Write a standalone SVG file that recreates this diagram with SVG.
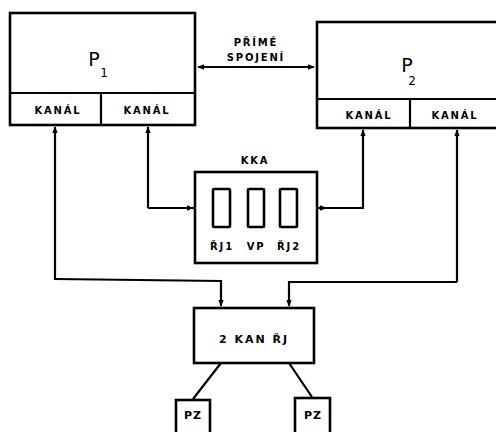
<svg xmlns="http://www.w3.org/2000/svg" width="496" height="432" viewBox="0 0 496 432">
<defs>
<marker id="ah" viewBox="0 0 10 10" refX="9" refY="5" markerWidth="3" markerHeight="3" orient="auto-start-reverse">
<path d="M0,1 L10,5 L0,9 z" fill="#000"/>
</marker>
</defs>
<style>
.b{fill:#fff;stroke:#000;stroke-width:2.6}
.l{fill:none;stroke:#000;stroke-width:2.2}
.t{font-family:"DejaVu Sans",sans-serif;font-weight:bold;fill:#000;text-anchor:middle}
.s{font-size:10px;letter-spacing:1.8px}
.big{font-size:19px;font-weight:normal}
.sub{font-size:12px;font-weight:normal}
</style>
<rect width="496" height="432" fill="#fff"/>
<g id="connectors">
<line class="l" x1="198" y1="67" x2="314" y2="67" marker-start="url(#ah)" marker-end="url(#ah)"/>
<polyline class="l" points="55,280 55,127" marker-end="url(#ah)"/>
<polyline class="l" points="148,208 148,127" marker-end="url(#ah)"/>
<polyline class="l" points="148,208 193,208" marker-end="url(#ah)"/>
<line class="l" x1="193" y1="208" x2="213" y2="208"/>
<line class="l" x1="230" y1="208" x2="248" y2="208"/>
<line class="l" x1="264" y1="208" x2="280" y2="208"/>
<polyline class="l" points="297,208 326,208" marker-end="url(#ah)"/>
<polyline class="l" points="326,208 363,208 363,130" marker-end="url(#ah)"/>
<polyline class="l" points="55,279 221,281 221,306" marker-end="url(#ah)"/>
<polyline class="l" points="457,282 457,130" marker-end="url(#ah)"/>
<polyline class="l" points="457,282 289,282 289,306" marker-end="url(#ah)"/>
<line class="l" x1="221" y1="363" x2="193" y2="399"/>
<line class="l" x1="289" y1="363" x2="312" y2="397"/>
</g>
<g id="p1">
<rect class="b" x="10" y="13" width="185" height="112"/>
<line class="l" x1="10" y1="93" x2="195" y2="93" stroke-width="2.6"/>
<line class="l" x1="101" y1="93" x2="101" y2="125"/>
<text class="t big" x="94" y="66">P</text>
<text class="t sub" x="104" y="77">1</text>
<text class="t s" x="58" y="114">KANÁL</text>
<text class="t s" x="147" y="114">KANÁL</text>
</g>
<g id="p2">
<rect class="b" x="317" y="22" width="190" height="106"/>
<line class="l" x1="317" y1="99" x2="496" y2="99" stroke-width="2.6"/>
<line class="l" x1="410" y1="99" x2="410" y2="128"/>
<text class="t big" x="407" y="72">P</text>
<text class="t sub" x="412" y="85">2</text>
<text class="t s" x="369" y="119">KANÁL</text>
<text class="t s" x="455" y="119">KANÁL</text>
</g>
<text class="t s" x="256" y="46">PŘÍMÉ</text>
<text class="t s" x="256" y="61">SPOJENÍ</text>
<g id="kka">
<text class="t s" x="255" y="164">KKA</text>
<rect class="b" x="195" y="172" width="122" height="91"/>
<rect class="b" x="213" y="189" width="17" height="38" rx="1"/>
<rect class="b" x="248" y="189" width="16" height="38" rx="1"/>
<rect class="b" x="280" y="189" width="17" height="38" rx="1"/>
<text class="t s" x="222" y="250" letter-spacing="0.8">ŘJ1</text>
<text class="t s" x="256" y="250">VP</text>
<text class="t s" x="289" y="250" letter-spacing="0.8">ŘJ2</text>
</g>
<g id="kan">
<rect class="b" x="194" y="308" width="120" height="55"/>
<text class="t" x="254" y="343" font-size="11" letter-spacing="2">2 KAN ŘJ</text>
</g>
<g id="pz1">
<rect class="b" x="176" y="400" width="34" height="40"/>
<text class="t" x="193" y="419" font-size="11" letter-spacing="1">PZ</text>
</g>
<g id="pz2">
<rect class="b" x="295" y="398" width="35" height="42"/>
<text class="t" x="313" y="419" font-size="11" letter-spacing="1">PZ</text>
</g>
</svg>
